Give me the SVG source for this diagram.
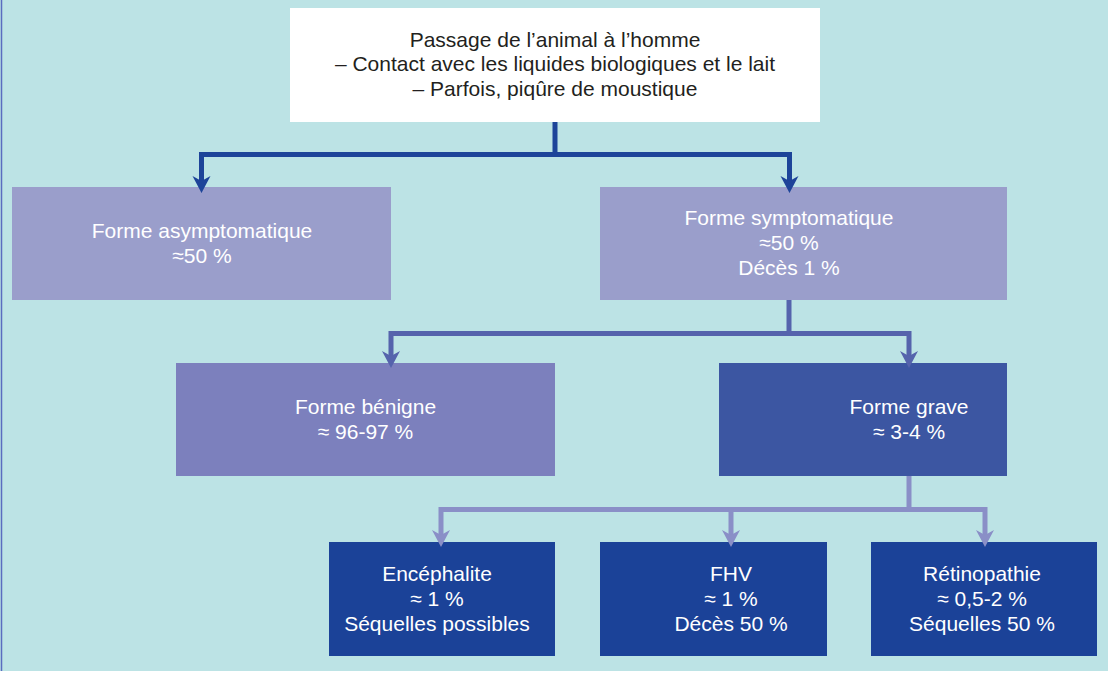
<svg xmlns="http://www.w3.org/2000/svg" width="1112" height="673" viewBox="0 0 1112 673">
<style>
.t{font-family:"Liberation Sans",Arial,sans-serif;font-size:21px;text-anchor:middle;fill:#ffffff}
.dark{fill:#231f20}
.c1{fill:none;stroke:#1d4499;stroke-width:5}
.c2{fill:none;stroke:#5563ac;stroke-width:5}
.c3{fill:none;stroke:#8a8fc7;stroke-width:5}
</style>
<defs>
<marker id="a1" markerUnits="userSpaceOnUse" orient="auto" refX="0" refY="0" markerWidth="24" markerHeight="24" viewBox="-12 -12 24 24" overflow="visible"><path d="M8,0 L-9,-9 L-4,0 L-9,9 Z" fill="#1d4499"/></marker>
<marker id="a2" markerUnits="userSpaceOnUse" orient="auto" refX="0" refY="0" markerWidth="24" markerHeight="24" viewBox="-12 -12 24 24" overflow="visible"><path d="M8,0 L-9,-9 L-4,0 L-9,9 Z" fill="#5563ac"/></marker>
<marker id="a3" markerUnits="userSpaceOnUse" orient="auto" refX="0" refY="0" markerWidth="24" markerHeight="24" viewBox="-12 -12 24 24" overflow="visible"><path d="M8,0 L-9,-9 L-4,0 L-9,9 Z" fill="#8a8fc7"/></marker>
</defs>
<rect x="0" y="0" width="1112" height="673" fill="#ffffff"/>
<rect x="0" y="0" width="1108" height="671" fill="#bce3e5"/>
<line x1="1.5" y1="0" x2="1.5" y2="671" stroke="#5a6cc0" stroke-width="1.5"/>
<g id="n-passage">
<rect x="290" y="8" width="530" height="114" fill="#ffffff"/>
<text class="t dark" x="555" y="47">Passage de l’animal à l’homme</text>
<text class="t dark" x="555" y="71">– Contact avec les liquides biologiques et le lait</text>
<text class="t dark" x="555" y="96">– Parfois, piqûre de moustique</text>
</g>
<g id="n-asymptomatique">
<rect x="12" y="187" width="379" height="113" fill="#9a9ecb"/>
<text class="t" x="202" y="238">Forme asymptomatique</text>
<text class="t" x="202" y="263">≈50 %</text>
</g>
<g id="n-symptomatique">
<rect x="600" y="187" width="407" height="113" fill="#9a9ecb"/>
<text class="t" x="789" y="225">Forme symptomatique</text>
<text class="t" x="789" y="250">≈50 %</text>
<text class="t" x="789" y="275">Décès 1 %</text>
</g>
<g id="n-benigne">
<rect x="176" y="363" width="379" height="113" fill="#7c80bd"/>
<text class="t" x="365.5" y="414">Forme bénigne</text>
<text class="t" x="365.5" y="439">≈ 96-97 %</text>
</g>
<g id="n-grave">
<rect x="719" y="363" width="288" height="113" fill="#3c56a2"/>
<text class="t" x="909" y="414">Forme grave</text>
<text class="t" x="909" y="439">≈ 3-4 %</text>
</g>
<g id="n-encephalite">
<rect x="329" y="542" width="226" height="114" fill="#1b4298"/>
<text class="t" x="437" y="581">Encéphalite</text>
<text class="t" x="437" y="606">≈ 1 %</text>
<text class="t" x="437" y="631">Séquelles possibles</text>
</g>
<g id="n-fhv">
<rect x="600" y="542" width="227" height="114" fill="#1b4298"/>
<text class="t" x="731" y="581">FHV</text>
<text class="t" x="731" y="606">≈ 1 %</text>
<text class="t" x="731" y="631">Décès 50 %</text>
</g>
<g id="n-retinopathie">
<rect x="871" y="542" width="226" height="114" fill="#1b4298"/>
<text class="t" x="982" y="581">Rétinopathie</text>
<text class="t" x="982" y="606">≈ 0,5-2 %</text>
<text class="t" x="982" y="631">Séquelles 50 %</text>
</g>
<g id="connectors">
<polyline class="c1" points="555,122 555,154.5"/>
<polyline class="c1" points="555,154.5 201.5,154.5 201.5,185" marker-end="url(#a1)"/>
<polyline class="c1" points="555,154.5 789.5,154.5 789.5,185" marker-end="url(#a1)"/>
<polyline class="c2" points="789,300 789,333.5"/>
<polyline class="c2" points="789,333.5 391,333.5 391,360" marker-end="url(#a2)"/>
<polyline class="c2" points="789,333.5 909,333.5 909,360" marker-end="url(#a2)"/>
<polyline class="c3" points="909,476 909,509.5"/>
<polyline class="c3" points="909,509.5 441,509.5 441,539" marker-end="url(#a3)"/>
<polyline class="c3" points="909,509.5 985,509.5 985,539" marker-end="url(#a3)"/>
<polyline class="c3" points="731,509.5 731,539" marker-end="url(#a3)"/>
</g>
</svg>
